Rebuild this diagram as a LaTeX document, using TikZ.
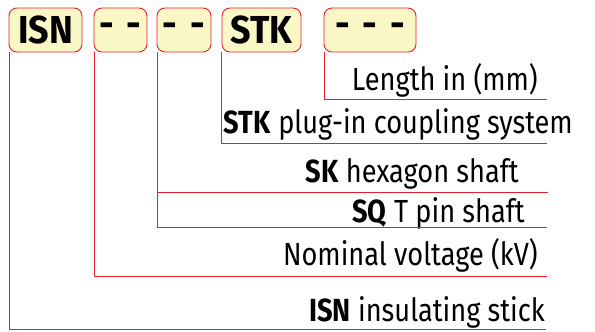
\documentclass[tikz,border=0pt]{standalone}
\usepackage{fontspec}
\setmainfont[FakeStretch=0.85]{Fira Sans}
\newfontfamily\boxfont[FakeStretch=0.92]{Fira Sans}
\usepackage{xcolor}
\usetikzlibrary{positioning}

\definecolor{codefill}{HTML}{FAF7C6}
\definecolor{codered}{HTML}{E5202E}

\tikzset{
  codebox/.style={draw=codered, fill=codefill, rounded corners=8pt, line width=0.9pt,
    minimum height=44pt, inner sep=0pt, font=\boxfont\fontsize{39}{40}\selectfont\bfseries},
  lead/.style={draw=codered, line width=0.9pt},
  legend/.style={anchor=base east, inner sep=0pt, font=\fontsize{32}{36}\selectfont}
}
\newcommand{\gap}{\hspace{13pt}}

\begin{document}
\begin{tikzpicture}[x=1pt,y=-1pt]
\useasboundingbox (0,0) rectangle (595,332);

%%%%%%%%%%%%%%%%%%%%%%%%%%%%%%%%%%%%%%%%%
% ordering code boxes
\node[codebox, minimum width=73pt] (isn) at (45.5,30) {ISN};
\node[codebox, minimum width=53pt] (volt) at (120.5,30) {-\gap-};
\node[codebox, minimum width=54pt] (shaft) at (184,30) {-\gap-};
\node[codebox, minimum width=79pt] (stk) at (261.5,30) {STK};
\node[codebox, minimum width=92pt] (len) at (370,30) {-\gap-\gap-};

%%%%%%%%%%%%%%%%%%%%%%%%%%%%%%%%%%%%%%%%%
% explanations
\node[legend] (lenlab) at (538,90) {Length in (mm)};
\node[legend] (stklab) at (573,133) {\textbf{STK} plug-in coupling system};
\node[legend] (sklab) at (519,182) {\textbf{SK} hexagon shaft};
\node[legend] (sqlab) at (525,222) {\textbf{SQ} T pin shaft};
\node[legend] (voltlab) at (538,265) {Nominal voltage (kV)};
\node[legend] (isnlab) at (545,321) {\textbf{ISN} insulating stick};

%%%%%%%%%%%%%%%%%%%%%%%%%%%%%%%%%%%%%%%%%
% leader lines
\coordinate (lenend) at (547,99);
\coordinate (stkend) at (547,143);
\coordinate (skend) at (548,192);
\coordinate (sqend) at (547,227);
\coordinate (voltend) at (547,276);
\coordinate (isnend) at (546,329);

\draw[lead] ([xshift=1pt]len.south west) |- (lenend);
\draw[lead] (stk.south west) |- (stkend);
\draw[lead] ([xshift=1pt]shaft.south west) |- (skend);
\draw[lead] ([xshift=1pt]shaft.south west) |- (sqend);
\draw[lead] ([xshift=1pt]volt.south west) |- (voltend);
\draw[lead] ([xshift=1pt]isn.south west) |- (isnend);

\end{tikzpicture}
\end{document}
